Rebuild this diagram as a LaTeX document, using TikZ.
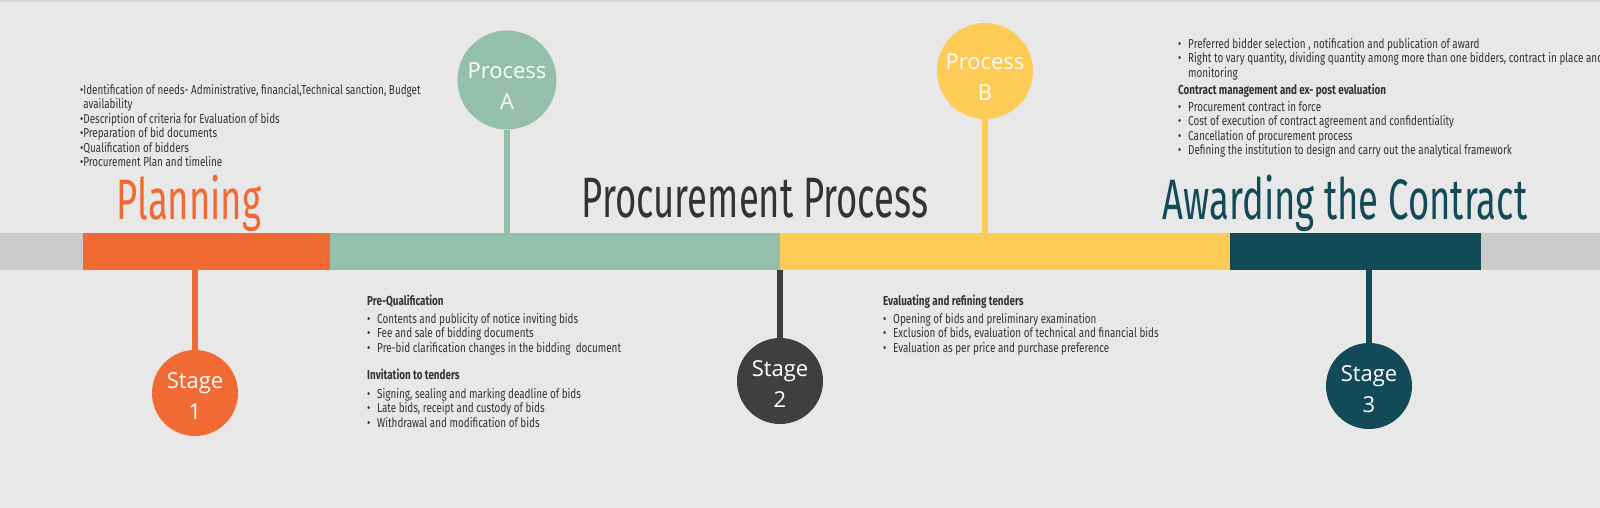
\documentclass[tikz,border=0pt]{standalone}
\usepackage{fontspec}
\setmainfont{Open Sans}
\newfontfamily\cond[FakeStretch=0.76]{Fira Sans}
\newfontfamily\titlef[FakeStretch=0.64]{Fira Sans}
\newfontfamily\circf{Open Sans}
\definecolor{bgc}{HTML}{E8E8E8}
\definecolor{trackc}{HTML}{CBCBCB}
\definecolor{orangec}{HTML}{F26A33}
\definecolor{tealc}{HTML}{93BFAB}
\definecolor{yellowc}{HTML}{FECB57}
\definecolor{darkc}{HTML}{134A58}
\definecolor{grayc}{HTML}{403E3E}
\definecolor{textc}{HTML}{333333}
\newcommand{\bul}{\makebox[10pt][l]{•}}
\tikzset{
  seg/.style={rectangle, draw=none, inner sep=0pt, anchor=north west, minimum height=37pt},
  circ/.style={circle, draw=none, inner sep=0pt},
  circtext/.style={inner sep=0pt, text=white, align=center, font=\circf\fontsize{22}{31}\selectfont},
  stem/.style={line width=5.5pt},
  title/.style={inner sep=0pt, font=\titlef\fontsize{57}{64}\selectfont},
  block/.style={inner sep=0pt, anchor=north west, align=left, text=textc, font=\cond\fontsize{13}{14.5}\selectfont}
}
\begin{document}
\begin{tikzpicture}[x=1pt,y=-1pt]
\fill[bgc] (0,0) rectangle (1600,508);
\fill[black!15] (0,0) rectangle (1600,2);
\useasboundingbox (0,0) rectangle (1600,508);
% bar
\node[seg, fill=trackc, minimum width=1600pt] (track) at (0,233) {};
\node[seg, fill=orangec, minimum width=247pt] (seg1) at (83,233) {};
\node[seg, fill=tealc, minimum width=450pt] (seg2) at (330,233) {};
\node[seg, fill=yellowc, minimum width=450pt] (seg3) at (780,233) {};
\node[seg, fill=darkc, minimum width=251pt] (seg4) at (1230,233) {};
% circles
\node[circ, fill=tealc, minimum size=99pt] (pa) at (507,80) {};
\node[circ, fill=yellowc, minimum size=96pt] (pb) at (985,71) {};
\node[circ, fill=orangec, minimum size=86pt] (s1) at (195,393) {};
\node[circ, fill=grayc, minimum size=86pt] (s2) at (780,381) {};
\node[circ, fill=darkc, minimum size=86pt] (s3) at (1369,386) {};
\node[circtext] (pat) at ([yshift=-6pt]pa.center) {Process\\A};
\node[circtext] (pbt) at ([yshift=-6pt]pb.center) {Process\\B};
\node[circtext] (s1t) at ([yshift=-3pt]s1.center) {Stage\\1};
\node[circtext] (s2t) at ([yshift=-3pt]s2.center) {Stage\\2};
\node[circtext] (s3t) at ([yshift=-3pt]s3.center) {Stage\\3};
% stems
\draw[stem, tealc] (pa.south) -- (pa.south |- seg2.north);
\draw[stem, yellowc] (pb.south) -- (pb.south |- seg3.north);
\draw[stem, orangec] (s1.north) -- (s1.north |- seg1.south);
\draw[stem, grayc] (s2.north) -- (s2.north |- seg3.south);
\draw[stem, darkc] (s3.north) -- (s3.north |- seg4.south);
% titles
\node[title, text=orangec] (tplan) at (189,203) {Planning};
\node[title, text=textc] (tproc) at (755,198) {Procurement Process};
\node[title, text=darkc] (taward) at (1345,203) {Awarding the Contract};
% text blocks
\node[block] (b1) at (80,84) {•Identification of needs- Administrative, financial,Technical sanction, Budget\\
\hphantom{•}availability\\
•Description of criteria for Evaluation of bids\\
•Preparation of bid documents\\
•Qualification of bidders\\
•Procurement Plan and timeline};
\node[block] (b2) at (1178,38) {\bul Preferred bidder selection , notification and publication of award\\
\bul Right to vary quantity, dividing quantity among more than one bidders, contract in place and\\
\hphantom{\bul}monitoring\\[3pt]
{\bfseries Contract management and ex- post evaluation}\\[2pt]
\bul Procurement contract in force\\
\bul Cost of execution of contract agreement and confidentiality\\
\bul Cancellation of procurement process\\
\bul Defining the institution to design and carry out the analytical framework};
\node[block] (b3) at (367,295) {{\bfseries Pre-Qualification}\\[3pt]
\bul Contents and publicity of notice inviting bids\\
\bul Fee and sale of bidding documents\\
\bul Pre-bid clarification changes in the bidding\ \ document\\[13pt]
{\bfseries Invitation to tenders}\\[4pt]
\bul Signing, sealing and marking deadline of bids\\
\bul Late bids, receipt and custody of bids\\
\bul Withdrawal and modification of bids};
\node[block] (b4) at (883,295) {{\bfseries Evaluating and refining tenders}\\[3pt]
\bul Opening of bids and preliminary examination\\
\bul Exclusion of bids, evaluation of technical and financial bids\\
\bul Evaluation as per price and purchase preference};
\end{tikzpicture}
\end{document}
